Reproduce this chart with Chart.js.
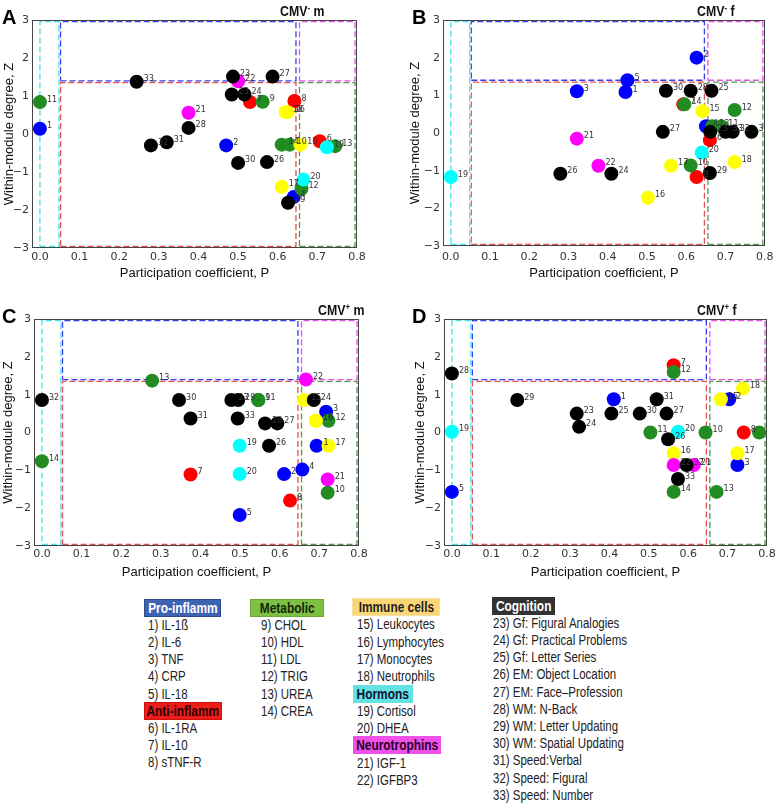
<!DOCTYPE html>
<html><head><meta charset="utf-8">
<script src="https://cdn.jsdelivr.net/npm/chart.js@4.4.1/dist/chart.umd.min.js"></script>
<style>
body{margin:0;background:#fff;width:778px;height:804px;position:relative;overflow:hidden;font-family:"Liberation Sans",Arial,sans-serif;}
canvas{position:absolute;}
.it{position:absolute;white-space:nowrap;font-size:14px;line-height:16px;color:#222;transform:scaleX(0.82);transform-origin:0 50%;}
.hd{position:absolute;height:18px;box-sizing:border-box;border:1px solid;display:flex;align-items:center;justify-content:center;font-weight:bold;font-size:14px;white-space:nowrap;}
.hd span{display:inline-block;transform:scaleX(0.85);}
.letter{position:absolute;font-weight:bold;font-size:20px;line-height:20px;color:#000;}
.ttl{position:absolute;font-weight:bold;font-size:14px;line-height:16px;color:#111;white-space:nowrap;transform:scaleX(0.88);transform-origin:0 50%;}
.ttl sup{font-size:9px;vertical-align:5px;}
</style>
</head><body>
<canvas id="cA" width="390" height="290"></canvas>
<canvas id="cB" width="388" height="290"></canvas>
<canvas id="cC" width="390" height="290"></canvas>
<canvas id="cD" width="388" height="290"></canvas>
<script>
// ---------- data ----------
const xTicks = [0, 0.1, 0.2, 0.3, 0.4, 0.5, 0.6, 0.7, 0.8];
const yTicks = [-3, -2, -1, 0, 1, 2, 3];
const groupNames = ['Pro-inflamm','Anti-inflamm','Metabolic','Immune cells','Hormons','Neurotrophins','Cognition'];
const nodeGroup = [0,0,0,0,0, 1,1,1, 2,2,2,2,2,2, 3,3,3,3, 4,4, 5,5, 6,6,6,6,6,6,6,6,6,6,6];
const nodeNames = ['IL-1ß','IL-6','TNF','CRP','IL-18','IL-1RA','IL-10','sTNF-R','CHOL','HDL','LDL','TRIG','UREA','CREA',
  'Leukocytes','Lymphocytes','Monocytes','Neutrophils','Cortisol','DHEA','IGF-1','IGFBP3',
  'Gf: Figural Analogies','Gf: Practical Problems','Gf: Letter Series','EM: Object Location','EM: Face\u2013Profession',
  'WM: N-Back','WM: Letter Updating','WM: Spatial Updating','Speed:Verbal','Speed: Figural','Speed: Number'];

// participation coefficient P and within-module degree Z, nodes 1..33 (null = not visible)
const pA_P = [0, 0.47, null, 0.64, null, 0.706, 0.53, 0.642, 0.562, 0.63, 0, 0.66, 0.745, 0.61, 0.657, 0.625, 0.61, 0.62, 0.724, 0.665, 0.375, 0.50, 0.487, 0.516, 0.484, 0.573, 0.587, 0.375, 0.626, 0.50, 0.32, 0.28, 0.244];
const pA_Z = [0.14, -0.30, null, -1.66, null, -0.19, 0.84, 0.87, 0.85, -0.28, 0.84, -1.44, -0.32, -0.28, -0.28, 0.575, -1.39, 0.575, -0.35, -1.2, 0.56, 1.39, 1.51, 1.04, 1.04, -0.74, 1.51, 0.16, -1.81, -0.76, -0.22, -0.30, 1.375];
const pB_P = [0.445, 0.626, 0.321, 0.65, 0.45, 0.66, 0.592, 0.626, null, 0.611, 0.689, 0.723, 0.666, 0.595, 0.641, 0.502, 0.561, 0.723, 0, 0.639, 0.321, 0.376, 0.661, 0.409, 0.664, 0.279, 0.54, 0.611, 0.66, 0.548, 0.766, 0.718, 0.70];
const pB_Z = [1.09, 2.0, 1.11, 0.18, 1.40, -0.19, 0.76, -1.17, null, -0.86, 0.18, 0.61, 0.18, 0.76, 0.58, -1.72, -0.87, -0.77, -1.17, -0.52, -0.15, -0.87, 0.03, -1.08, 1.12, -1.08, 0.03, 1.12, -1.06, 1.12, 0.03, 0.03, 0.03];
const pC_P = [0.693, 0.611, 0.717, 0.657, 0.499, null, 0.375, 0.626, 0.546, 0.721, 0.546, 0.723, 0.278, 0, 0.661, 0.691, 0.723, 0.691, 0.499, 0.499, 0.721, 0.666, 0.478, 0.686, null, 0.573, 0.594, 0.563, 0.495, 0.346, 0.375, 0, 0.494];
const pC_Z = [-0.35, -1.1, 0.55, -0.98, -2.18, null, -1.11, -1.80, 0.86, -1.59, 0.86, 0.31, 1.37, -0.76, 0.86, 0.31, -0.35, 0.31, -0.35, -1.1, -1.24, 1.40, 0.86, 0.86, null, -0.35, 0.24, 0.24, 0.86, 0.86, 0.37, 0.86, 0.37];
const pD_P = [0.411, 0.704, 0.725, null, 0, null, 0.563, 0.741, 0.78, 0.644, 0.504, 0.563, 0.672, 0.563, 0.683, 0.563, 0.725, 0.739, 0, 0.574, 0.614, 0.563, 0.317, 0.323, 0.405, 0.549, 0.545, 0, 0.166, 0.477, 0.52, 0.596, 0.574];
const pD_Z = [0.88, 0.88, -0.86, null, -1.57, null, 1.78, 0.0, 0.0, 0.0, 0.0, 1.60, -1.57, -1.57, 0.88, -0.55, -0.55, 1.16, 0.02, 0.02, -0.86, -0.86, 0.50, 0.15, 0.50, -0.18, 0.50, 1.56, 0.86, 0.50, 0.88, -0.86, -1.23];

// node-role region boundaries (P range, Z range)
const rectP0 = [0, 0.052, 0.655, 0.052, 0.655];
const rectP1 = [0.048, 0.646, 0.795, 0.646, 0.795];
const rectZ0 = [-2.96, 1.40, 1.40, -2.96, -2.96];
const rectZ1 = [2.96, 2.96, 2.96, 1.35, 1.35];

// ---------- styles / layout ----------
const groupColors = ['#0000ff','#ff0000','#228b22','#ffff00','#00ffff','#ff00ff','#000000'];
const rectColors = ['#3ee6e6','#3c3cf0','#e650e6','#e85050','#4f9a4f'];
const panels = [
  {id:'cA', letter:'A', t1:'CMV', sup:'-', t2:' m', P:pA_P, Z:pA_Z, cx:0, cy:0, w:390, h:290, l:32, t:20, r:357, b:248, yTitleX:9, xTitleY:273, tickY:257, letX:2, letY:7, tX:280, tY:0},
  {id:'cB', letter:'B', t1:'CMV', sup:'-', t2:' f', P:pB_P, Z:pB_Z, cx:390, cy:0, w:388, h:290, l:443, t:20, r:769, b:246, yTitleX:415.5, xTitleY:273, tickY:257, letX:412, letY:7, tX:697, tY:0},
  {id:'cC', letter:'C', t1:'CMV', sup:'+', t2:' m', P:pC_P, Z:pC_Z, cx:0, cy:299, w:390, h:290, l:34, t:319, r:359, b:546, yTitleX:8.5, xTitleY:572, tickY:554, letX:2, letY:306, tX:318, tY:299},
  {id:'cD', letter:'D', t1:'CMV', sup:'+', t2:' f', P:pD_P, Z:pD_Z, cx:390, cy:299, w:388, h:290, l:444, t:319, r:767, b:546, yTitleX:420.5, xTitleY:572, tickY:554, letX:412, letY:306, tX:697, tY:299}
];
const TITLE_SIZE = 13, TICK_SIZE = 11;

const labelPlugin = {
  id: 'nodeLabels',
  afterDatasetsDraw(chart) {
    const ds = chart.data.datasets[0];
    const meta = chart.getDatasetMeta(0);
    const ctx = chart.ctx, a = chart.chartArea;
    ctx.save();
    ctx.beginPath(); ctx.rect(a.left, a.top, a.right - a.left, a.bottom - a.top); ctx.clip();
    ctx.font = '8px "DejaVu Sans"'; ctx.fillStyle = '#333'; ctx.textBaseline = 'middle'; ctx.textAlign = 'left';
    meta.data.forEach((el, i) => ctx.fillText(String(ds.nodeIds[i]), el.x + 7, el.y - 2.5));
    ctx.restore();
    ctx.save(); ctx.strokeStyle = '#444'; ctx.lineWidth = 1;
    ctx.strokeRect(Math.round(a.left) + 0.5, Math.round(a.top) + 0.5, Math.round(a.right - a.left) - 1, Math.round(a.bottom - a.top) - 1);
    ctx.restore();
  }
};

Chart.defaults.font.family = '"Liberation Sans", Arial, sans-serif';
const fmtY = v => (v < 0 ? '\u2212' : '') + Math.abs(v);

panels.forEach(pn => {
  const cv = document.getElementById(pn.id);
  cv.style.left = pn.cx + 'px'; cv.style.top = pn.cy + 'px';
  const pts = [], ids = [], cols = [];
  pn.P.forEach((p, i) => {
    if (p === null || pn.Z[i] === null) return;
    pts.push({x: p, y: pn.Z[i]}); ids.push(i + 1); cols.push(groupColors[nodeGroup[i]]);
  });
  const datasets = [{data: pts, nodeIds: ids, pointBackgroundColor: cols, pointBorderColor: cols, pointBorderWidth: 0,
    pointRadius: 7, pointHoverRadius: 7, order: 0}];
  rectP0.forEach((p0, k) => {
    datasets.push({data: [{x: p0, y: rectZ0[k]}, {x: rectP1[k], y: rectZ0[k]}, {x: rectP1[k], y: rectZ1[k]}, {x: p0, y: rectZ1[k]}, {x: p0, y: rectZ0[k]}],
      showLine: true, borderColor: rectColors[k], borderWidth: 1.3, borderDash: [6, 3], pointRadius: 0, fill: false, order: 1 + k});
  });
  const lh = TITLE_SIZE * 1.2;
  const yAxisW = pn.l - pn.cx, xAxisH = pn.cy + pn.h - pn.b;
  const tickFontLH = TICK_SIZE * 1.2;
  new Chart(cv, {
    type: 'scatter',
    data: {datasets},
    options: {
      responsive: false, animation: false, devicePixelRatio: 1,
      layout: {padding: {left: 0, top: pn.t - pn.cy, right: pn.cx + pn.w - pn.r, bottom: 0}},
      plugins: {legend: {display: false}, tooltip: {enabled: false}},
      scales: {
        x: {type: 'linear', min: -0.02, max: 0.8,
          afterBuildTicks: s => { s.ticks = xTicks.map(v => ({value: v})); },
          afterFit: s => { s.height = xAxisH; },
          grid: {display: false, drawTicks: false}, border: {display: false},
          ticks: {autoSkip: false, maxRotation: 0, padding: Math.max(0, pn.tickY - pn.b - tickFontLH / 2),
            font: {family: '"DejaVu Sans"', size: TICK_SIZE}, color: '#333', callback: v => v.toFixed(1)},
          title: {display: true, text: 'Participation coefficient, P', color: '#111', font: {size: TITLE_SIZE},
            padding: {top: 0, bottom: pn.cy + pn.h - pn.xTitleY - lh / 2}}
        },
        y: {type: 'linear', min: -3, max: 3,
          afterBuildTicks: s => { s.ticks = yTicks.map(v => ({value: v})); },
          afterFit: s => { s.width = yAxisW; },
          grid: {display: false, drawTicks: false}, border: {display: false},
          ticks: {autoSkip: false, padding: 3, font: {family: '"DejaVu Sans"', size: TICK_SIZE}, color: '#333', callback: fmtY},
          title: {display: true, text: 'Within-module degree, Z', color: '#111', font: {size: TITLE_SIZE},
            padding: {top: Math.max(0, pn.yTitleX - pn.cx - lh / 2), bottom: 0}}
        }
      }
    },
    plugins: [labelPlugin]
  });
  const L = document.createElement('div'); L.className = 'letter'; L.textContent = pn.letter;
  L.style.left = pn.letX + 'px'; L.style.top = pn.letY + 'px'; document.body.appendChild(L);
  const T = document.createElement('div'); T.className = 'ttl';
  T.innerHTML = pn.t1 + '<sup>' + pn.sup + '</sup>' + pn.t2;
  T.style.left = pn.tX + 'px'; T.style.top = pn.tY + 'px'; document.body.appendChild(T);
});

// ---------- key ----------
const headerStyle = [
  {x: 144, w: 77, bg: '#3e63b3', fg: '#ffffff', bd: '#2a4a8e'},
  {x: 144, w: 78, bg: '#ee1b1b', fg: '#2a0000', bd: '#d01010'},
  {x: 250, w: 74, bg: '#7dc143', fg: '#15250a', bd: '#6aa838'},
  {x: 352, w: 88, bg: '#fbd676', fg: '#222222', bd: '#f5e0a8'},
  {x: 353, w: 60, bg: '#62e2e2', fg: '#101030', bd: '#62e2e2'},
  {x: 353, w: 88, bg: '#ee50e8', fg: '#2a0028', bd: '#ee50e8'},
  {x: 492, w: 63, bg: '#333333', fg: '#ffffff', bd: '#333333'}
];
const keyColumns = [
  {x: 148, y0: 608, step: 17.1, rows: ['h0', 1, 2, 3, 4, 5, 'h1', 6, 7, 8]},
  {x: 261, y0: 608, step: 17.1, rows: ['h2', 9, 10, 11, 12, 13, 14]},
  {x: 357, y0: 607, step: 17.3, rows: ['h3', 15, 16, 17, 18, 'h4', 19, 20, 'h5', 21, 22]},
  {x: 493, y0: 605.5, step: 17.2, rows: ['h6', 23, 24, 25, 26, 27, 28, 29, 30, 31, 32, 33]}
];
keyColumns.forEach(col => {
  col.rows.forEach((r, k) => {
    const yc = col.y0 + col.step * k;
    if (typeof r === 'string') {
      const g = +r.slice(1), st = headerStyle[g];
      const d = document.createElement('div'); d.className = 'hd';
      d.style.cssText = `left:${st.x}px;top:${yc - 9}px;width:${st.w}px;background:${st.bg};color:${st.fg};border-color:${st.bd};`;
      d.innerHTML = '<span>' + groupNames[g] + '</span>';
      document.body.appendChild(d);
    } else {
      const d = document.createElement('div'); d.className = 'it';
      d.style.left = col.x + 'px'; d.style.top = (yc - 8) + 'px';
      d.textContent = r + ') ' + nodeNames[r - 1];
      document.body.appendChild(d);
    }
  });
});
</script>
</body></html>
